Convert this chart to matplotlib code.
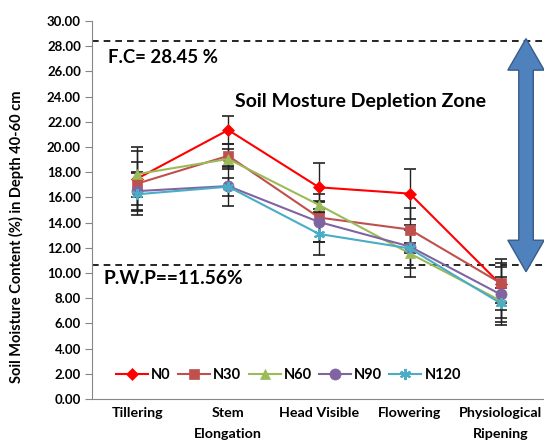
import matplotlib.pyplot as plt
from matplotlib.patches import Polygon
import numpy as np

plt.rcParams['font.family'] = ['Lato', 'DejaVu Sans']
plt.rcParams['font.weight'] = 'bold'

stages = ["Tillering", "Stem\nElongation", "Head Visible", "Flowering", "Physiological\nRipening"]
treatments = ["N0", "N30", "N60", "N90", "N120"]

n0 = [17.5, 21.35, 16.8, 16.3, 9.1]
n30 = [17.1, 19.3, 14.4, 13.45, 9.2]
n60 = [17.85, 19.05, 15.4, 11.55, 7.8]
n90 = [16.5, 16.9, 14.05, 12.1, 8.3]
n120 = [16.25, 16.85, 13.1, 11.95, 7.6]

n0_err = [2.48, 1.1, 1.95, 1.98, 2.0]
n30_err = [1.7, 0.9, 1.9, 1.68, 1.6]
n60_err = [1.85, 0.8, 0.3, 1.9, 1.9]
n90_err = [1.54, 1.6, 1.6, 1.7, 2.2]
n120_err = [1.67, 0.7, 1.67, 0.4, 1.2]

fc_value = 28.45
pwp_line = 10.6

colors = ["#FF0000", "#C0504D", "#9BBB59", "#8064A2", "#4BACC6"]
markers = ["D", "s", "^", "o", (6, 2, 0)]
msizes = [6, 7, 7, 8, 8]

fig = plt.figure(figsize=(5.44, 4.46), dpi=100)
ax = fig.add_axes([92/544, 47/446, 454/544, 378/446])

x = np.arange(len(stages))
series = [n0, n30, n60, n90, n120]
errs = [n0_err, n30_err, n60_err, n90_err, n120_err]

for vals, err in zip(series, errs):
    ax.errorbar(x, vals, yerr=err, fmt='none', ecolor='#222222', elinewidth=1,
                capsize=4, capthick=1.2, zorder=2)

for vals, name, c, m, ms in zip(series, treatments, colors, markers, msizes):
    mew = 1.5 if name == "N120" else 0.5
    ax.plot(x, vals, color=c, marker=m, markersize=ms, markeredgewidth=mew,
            markeredgecolor=c, linewidth=1.5, label=name, zorder=3)

# field capacity / wilting point reference lines
ax.axhline(fc_value, color='black', linestyle=(0, (4, 3)), linewidth=1.2, zorder=1)
ax.axhline(pwp_line, color='black', linestyle=(0, (4, 3)), linewidth=1.2, zorder=1)

ax.text(-0.32, 27.1, "F.C= 28.45 %", fontsize=13.4, fontweight='bold', va='center')
ax.text(1.07, 23.65, "Soil Mosture Depletion Zone", fontsize=14, fontweight='bold', va='center')
ax.text(-0.37, 9.6, "P.W.P==11.56%", fontsize=13.8, fontweight='bold', va='center')

# double headed block arrow spanning the depletion zone
xa, top, bot = 4.28, fc_value + 0.15, 10.1
half_shaft, half_head, head_len = 0.08, 0.2, 2.5
arrow = Polygon([(xa, top), (xa + half_head, top - head_len), (xa + half_shaft, top - head_len),
                 (xa + half_shaft, bot + head_len), (xa + half_head, bot + head_len), (xa, bot),
                 (xa - half_head, bot + head_len), (xa - half_shaft, bot + head_len),
                 (xa - half_shaft, top - head_len), (xa - half_head, top - head_len)],
                closed=True, facecolor='#4F81BD', edgecolor='#385D8A', linewidth=1,
                zorder=4, clip_on=False)
ax.add_patch(arrow)

ax.set_xlim(-0.5, 4.5)
ax.set_ylim(0, 30)
ax.set_yticks(np.arange(0, 31, 2))
ax.set_yticklabels(["%.2f" % v for v in np.arange(0, 31, 2)], fontsize=9.5, fontweight='bold')
ax.set_xticks(x)
ax.set_xticklabels(stages, fontsize=10.3, fontweight='bold', linespacing=1.9)
ax.tick_params(axis='x', length=0, pad=6)
ax.tick_params(axis='y', direction='out', length=5, color='#868686', pad=3)
ax.set_ylabel("Soil Moisture Content (%) in Depth 40-60 cm", fontsize=10.5, fontweight='bold')
ax.yaxis.set_label_coords(-0.15, 0.43)

for side in ['top', 'right']:
    ax.spines[side].set_visible(False)
for side in ['left', 'bottom']:
    ax.spines[side].set_color('#868686')

ax.legend(loc='center', bbox_to_anchor=(0.433, 0.063), ncol=5, frameon=False,
          fontsize=10.5, handlelength=2.2, columnspacing=0.5, handletextpad=0.2)

fig.savefig("out.png", dpi=100)
